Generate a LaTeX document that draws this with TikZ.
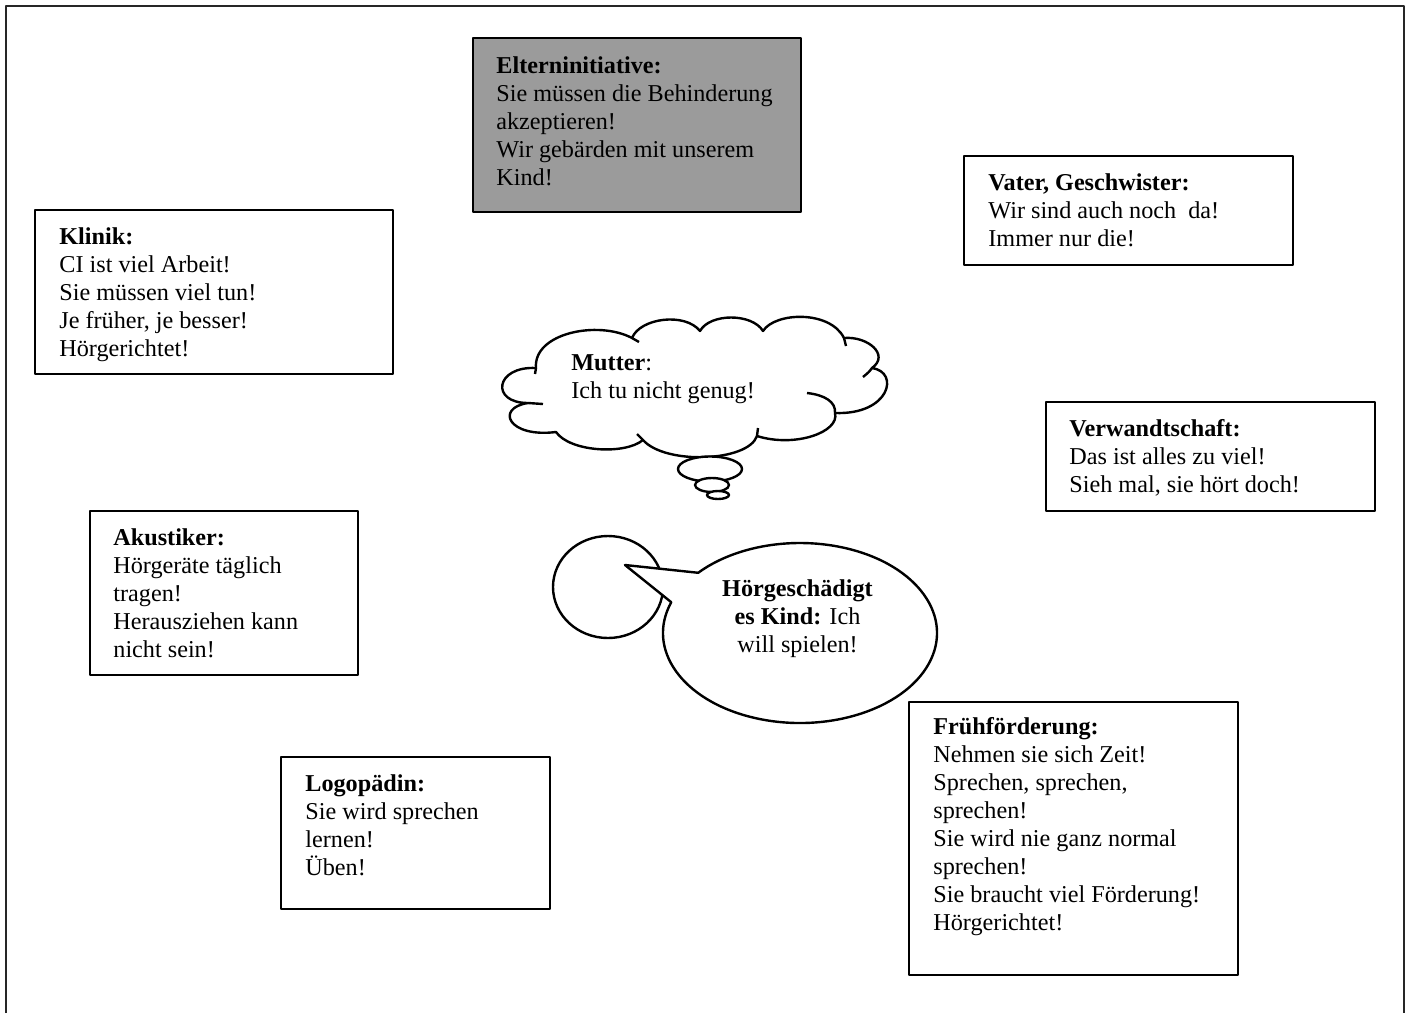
\documentclass[tikz,border=0pt]{standalone}
\usepackage{fontspec}
\setmainfont{Liberation Serif}
\newcommand\boxfont{\fontsize{12.1}{14}\selectfont}
\definecolor{boxgray}{RGB}{155,155,155}
\tikzset{
  box/.style={line width=1.4pt, draw=black},
  shaded/.style={box, fill=boxgray},
  % north edge of each text sits one strut height above its first baseline
  said/.style={anchor=north west, inner sep=0pt, align=left, font=\boxfont,
    execute at begin node=\strut},
  shapeline/.style={line width=1.2pt, draw=black, fill=white},
  hook/.style={line width=1.2pt, draw=black},
  frame/.style={line width=1.1pt, draw=black!85},
}
\begin{document}
\begin{tikzpicture}[x=0.5pt, y=0.5pt, line join=round]
\useasboundingbox (0,0) rectangle (1409,-1013);
\fill[white] (0,0) rectangle (1409,-1013);

% page frame, open at the bottom
\draw[frame] (6,-1013) -- (6,-6) -- (1404,-6) -- (1404,-1013);

% text boxes
\draw[shaded] (473,-38) rectangle (801,-212);
\draw[box] (964,-156) rectangle (1293,-265);
\draw[box] (35,-210) rectangle (393,-374);
\draw[box] (1046,-402) rectangle (1375,-511);
\draw[box] (90,-511) rectangle (358,-675);
\draw[box] (281,-757) rectangle (550,-909);
\draw[box] (909,-702) rectangle (1238,-975);

\node[said] (eltern) at (496,-56.4) {\textbf{Elterninitiative:}\\Sie müssen die Behinderung\\akzeptieren!\\Wir gebärden mit unserem\\Kind!};
\node[said] (vater) at (988,-173.4) {\textbf{Vater, Geschwister:}\\Wir sind auch noch~ da!\\Immer nur die!};
\node[said] (klinik) at (59,-227.4) {\textbf{Klinik:}\\CI ist viel Arbeit!\\Sie müssen viel tun!\\Je früher, je besser!\\Hörgerichtet!};
\node[said] (verwandt) at (1069,-419.4) {\textbf{Verwandtschaft:}\\Das ist alles zu viel!\\Sieh mal, sie hört doch!};
\node[said] (akustik) at (113,-528.4) {\textbf{Akustiker:}\\Hörgeräte täglich\\tragen!\\Herausziehen kann\\nicht sein!};
\node[said] (logo) at (305,-774.4) {\textbf{Logopädin:}\\Sie wird sprechen\\lernen!\\Üben!};
\node[said] (frueh) at (933,-717.4) {\textbf{Frühförderung:}\\Nehmen sie sich Zeit!\\Sprechen, sprechen,\\sprechen!\\Sie wird nie ganz normal\\sprechen!\\Sie braucht viel Förderung!\\Hörgerichtet!};

% thought cloud
\path[shapeline] (528,-403)
  .. controls (490,-403) and (495,-366) .. (536,-368)
  .. controls (533,-333) and (598,-320) .. (632,-338)
  .. controls (640,-318) and (685,-312) .. (700,-331)
  .. controls (710,-313) and (752,-313) .. (763,-331)
  .. controls (775,-312) and (830,-310) .. (844,-338)
  .. controls (868,-336) and (890,-355) .. (872,-368)
  .. controls (900,-372) and (890,-415) .. (835,-413)
  .. controls (840,-432) and (795,-448) .. (757,-436)
  .. controls (748,-462) and (665,-465) .. (643,-440)
  .. controls (625,-455) and (570,-452) .. (556,-432)
  .. controls (508,-438) and (495,-408) .. (528,-403) -- cycle;
% inner ends of the puffs
\draw[hook] (807,-393) .. controls (825,-395) and (836,-402) .. (835,-413);
\draw[hook] (872,-368) .. controls (869,-372) .. (863,-377);
\draw[hook] (757,-436) -- (758,-428);
\draw[hook] (643,-440) -- (637,-434);
\draw[hook] (528,-403) -- (543,-404);
\draw[hook] (632,-338) -- (639,-342);
\draw[hook] (844,-338) -- (846,-346);
\draw[hook] (536,-368) -- (535,-374);
% trailing bubbles
\path[shapeline] (710,-469) ellipse [x radius=32, y radius=12.5];
\path[shapeline] (712,-485) ellipse [x radius=17, y radius=7];
\path[shapeline] (718,-495) ellipse [x radius=11, y radius=4];
\node[said] (mutter) at (571,-354.4) {\textbf{Mutter}:\\Ich tu nicht genug!};

% speech bubble of the child
\path[shapeline] (608,-587) ellipse [x radius=55, y radius=51];
\path[shapeline] (625,-565) -- ([shift={(160:137 and 90)}]800,-633)
  arc[start angle=160, end angle=498, x radius=137, y radius=90] -- cycle;
\node[said, anchor=north, align=center] (kind) at (797.5,-579.4) {\textbf{Hörgeschädigt}\\\textbf{es Kind:} Ich\\will spielen!};
\end{tikzpicture}
\end{document}
